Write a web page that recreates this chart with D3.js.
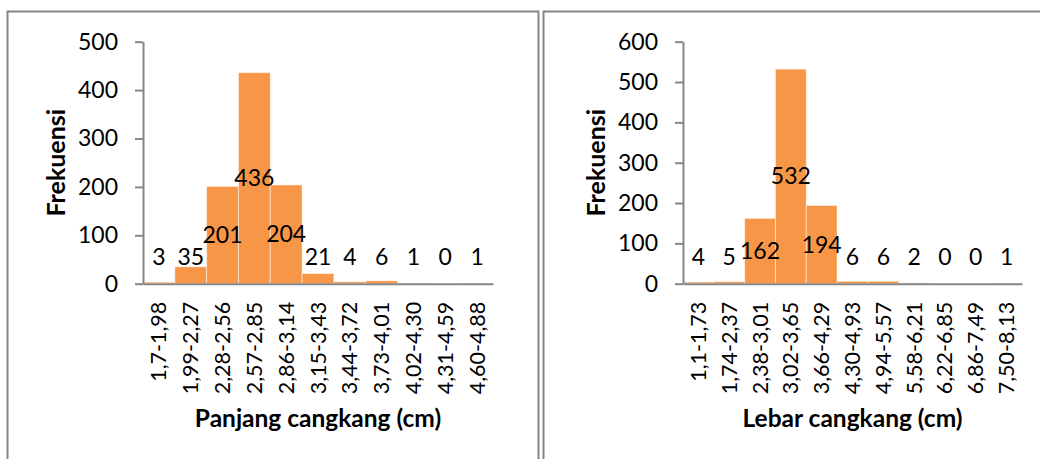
<!DOCTYPE html>
<html>
<head>
<meta charset="utf-8">
<script src="https://cdn.jsdelivr.net/npm/d3@7"></script>
<style>
  body { margin: 0; background: #fff; }
  svg { display: block; font-family: Lato, "Open Sans", sans-serif; }
</style>
</head>
<body>
<svg id="chart" width="1040" height="459"></svg>
<script>
// data
const panjangCats = ["1,7-1,98", "1,99-2,27", "2,28-2,56", "2,57-2,85", "2,86-3,14", "3,15-3,43",
  "3,44-3,72", "3,73-4,01", "4,02-4,30", "4,31-4,59", "4,60-4,88"];
const panjangFreq = [3, 35, 201, 436, 204, 21, 4, 6, 1, 0, 1];
const panjangTicks = [0, 100, 200, 300, 400, 500];

const lebarCats = ["1,1-1,73", "1,74-2,37", "2,38-3,01", "3,02-3,65", "3,66-4,29", "4,30-4,93",
  "4,94-5,57", "5,58-6,21", "6,22-6,85", "6,86-7,49", "7,50-8,13"];
const lebarFreq = [4, 5, 162, 532, 194, 6, 6, 2, 0, 0, 1];
const lebarTicks = [0, 100, 200, 300, 400, 500, 600];

const svg = d3.select("#chart");
const axisColor = "#868686";
const barColor = "#f79646";

// chart frames (bottom runs off the picture)
svg.append("rect").attr("x", 7.5).attr("y", 11.5).attr("width", 531).attr("height", 470)
  .attr("fill", "none").attr("stroke", axisColor).attr("stroke-width", 2);
svg.append("rect").attr("x", 543.5).attr("y", 11.5).attr("width", 520).attr("height", 470)
  .attr("fill", "none").attr("stroke", axisColor).attr("stroke-width", 2);

function drawHist(cfg) {
  const g = svg.append("g");
  const yTop = 41.7, yZero = 283.7;

  const x = d3.scaleBand().domain(cfg.cats).range([cfg.left, cfg.right]).padding(0);
  const y = d3.scaleLinear().domain([0, d3.max(cfg.ticks)]).range([yZero, yTop]);

  // bars
  g.selectAll("rect.bar")
    .data(cfg.values)
    .enter()
    .append("rect")
    .attr("class", "bar")
    .attr("x", (d, i) => x(cfg.cats[i]))
    .attr("width", x.bandwidth())
    .attr("y", d => y(d))
    .attr("height", d => yZero - y(d))
    .attr("fill", barColor)
    .attr("stroke", "#fff")
    .attr("stroke-opacity", 0.5)
    .attr("stroke-width", 1);

  // y axis
  const yAxis = g.append("g")
    .attr("transform", `translate(${cfg.left},0)`)
    .call(d3.axisLeft(y).tickValues(cfg.ticks).tickSizeInner(8).tickSizeOuter(0).tickPadding(17));
  yAxis.select(".domain").attr("stroke", axisColor).attr("stroke-width", 2);
  yAxis.selectAll(".tick line").attr("stroke", axisColor).attr("stroke-width", 2);
  yAxis.selectAll(".tick text")
    .attr("fill", "#000")
    .style("font-family", "Lato, sans-serif")
    .style("font-size", "23px");

  // x axis
  const xAxis = g.append("g")
    .attr("transform", `translate(0,${yZero})`)
    .call(d3.axisBottom(x).tickSize(0).tickSizeOuter(0));
  xAxis.select(".domain").attr("stroke", axisColor).attr("stroke-width", 2);
  xAxis.selectAll(".tick text")
    .attr("fill", "#000")
    .style("font-family", "Lato, sans-serif")
    .style("font-size", "21.5px")
    .attr("text-anchor", "end")
    .attr("transform", "rotate(-90)")
    .attr("x", -18)
    .attr("y", 0)
    .attr("dy", "0.35em");

  // value labels, centred in the bar, pushed up when the bar is too short
  g.selectAll("text.val")
    .data(cfg.values)
    .enter()
    .append("text")
    .attr("class", "val")
    .attr("x", (d, i) => x(cfg.cats[i]) + x.bandwidth() / 2)
    .attr("y", d => Math.min(y(d / 2), yZero - 27))
    .attr("dy", "0.35em")
    .attr("text-anchor", "middle")
    .style("font-size", "23px")
    .attr("fill", "#000")
    .text(d => d);

  // axis titles
  g.append("text")
    .attr("transform", `translate(${cfg.yTitleX},${(yTop + yZero) / 2}) rotate(-90)`)
    .attr("text-anchor", "middle")
    .attr("dy", "0.35em")
    .style("font-weight", "bold")
    .style("font-size", "25px")
    .text("Frekuensi");

  g.append("text")
    .attr("x", (cfg.left + cfg.right) / 2)
    .attr("y", 427)
    .attr("text-anchor", "middle")
    .style("font-weight", "bold")
    .style("font-size", "24.5px")
    .text(cfg.xTitle);
}

drawHist({ cats: panjangCats, values: panjangFreq, ticks: panjangTicks,
  left: 143, right: 493, yTitleX: 56, xTitle: "Panjang cangkang (cm)" });
drawHist({ cats: lebarCats, values: lebarFreq, ticks: lebarTicks,
  left: 683, right: 1022, yTitleX: 596, xTitle: "Lebar cangkang (cm)" });
</script>
</body>
</html>
